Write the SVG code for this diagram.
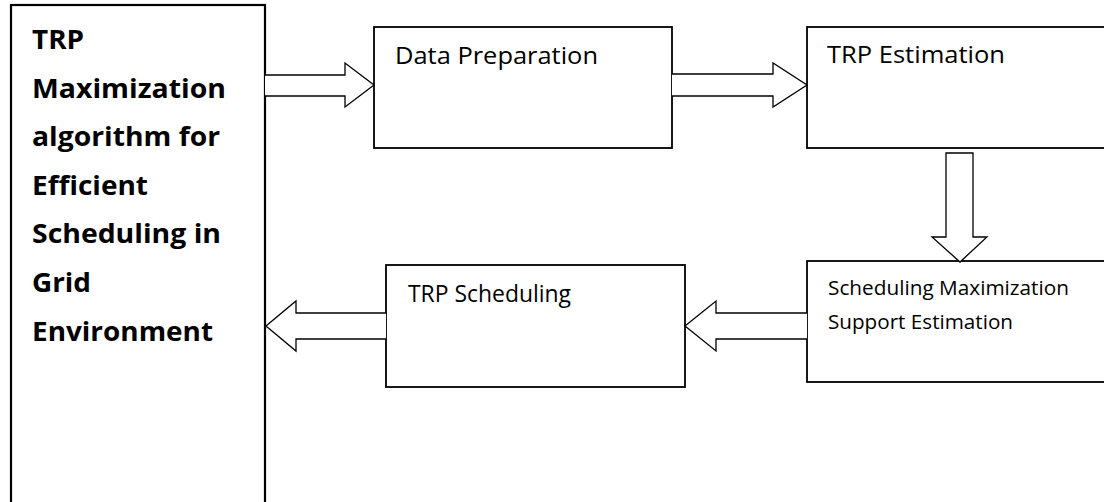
<svg xmlns="http://www.w3.org/2000/svg" width="1104" height="502" viewBox="0 0 1104 502">
  <style>
    .box { fill: #ffffff; stroke: #000000; stroke-width: 1.8; }
    .main { fill: #ffffff; stroke: #000000; stroke-width: 2.2; }
    .arrow { fill: #ffffff; stroke: #000000; stroke-width: 1.3; stroke-linejoin: miter; }
    .lbl { font-family: "Open Sans", "Liberation Sans", sans-serif; font-size: 24px; fill: #000000; }
    .lbl-sm { font-family: "Open Sans", "Liberation Sans", sans-serif; font-size: 20.5px; fill: #000000; }
    .title { font-family: "Open Sans", "Liberation Sans", sans-serif; font-size: 27px; font-weight: bold; fill: #000000; }
  </style>
  <rect width="1104" height="502" fill="#ffffff"/>

  <!-- Title block on the left -->
  <g id="node-title">
    <rect class="main" x="11" y="5" width="254" height="510"/>
    <text class="title" x="32" y="49" textLength="52" lengthAdjust="spacingAndGlyphs">TRP</text>
    <text class="title" x="32" y="97.6" textLength="194" lengthAdjust="spacingAndGlyphs">Maximization</text>
    <text class="title" x="32" y="146.2" textLength="188" lengthAdjust="spacingAndGlyphs">algorithm for</text>
    <text class="title" x="32" y="194.8" textLength="116" lengthAdjust="spacingAndGlyphs">Efficient</text>
    <text class="title" x="32" y="243.4" textLength="189" lengthAdjust="spacingAndGlyphs">Scheduling in</text>
    <text class="title" x="32" y="292" textLength="59" lengthAdjust="spacingAndGlyphs">Grid</text>
    <text class="title" x="32" y="340.6" textLength="181" lengthAdjust="spacingAndGlyphs">Environment</text>
  </g>

  <g id="node-data-preparation">
    <rect class="box" x="374" y="27" width="298" height="121"/>
    <text class="lbl" x="395" y="64" textLength="203" lengthAdjust="spacingAndGlyphs">Data Preparation</text>
  </g>

  <g id="node-trp-estimation">
    <rect class="box" x="807" y="27" width="310" height="121"/>
    <text class="lbl" x="827" y="63" textLength="178" lengthAdjust="spacingAndGlyphs">TRP Estimation</text>
  </g>

  <g id="node-support-estimation">
    <rect class="box" x="807" y="261" width="310" height="121"/>
    <text class="lbl-sm" x="828" y="294.5" textLength="241" lengthAdjust="spacingAndGlyphs">Scheduling Maximization</text>
    <text class="lbl-sm" x="828" y="328.5" textLength="185" lengthAdjust="spacingAndGlyphs">Support Estimation</text>
  </g>

  <g id="node-trp-scheduling">
    <rect class="box" x="386" y="265" width="299" height="122"/>
    <text class="lbl" x="408" y="302" textLength="163" lengthAdjust="spacingAndGlyphs">TRP Scheduling</text>
  </g>

  <!-- Block arrows between the stages -->
  <g id="connectors">
    <path class="arrow" d="M265,75 H345 V63 L374,85 L345,107 V96 H265"/>
    <path class="arrow" d="M672,74 H773 V63 L807,85 L773,107 V96 H672"/>
    <path class="arrow" d="M946,153 H973 V237 H987 L960,262 L932,237 H946 Z"/>
    <path class="arrow" d="M807,313 H716 V301 L685,326 L716,351 V339 H807"/>
    <path class="arrow" d="M386,313 H296 V301 L266,326 L296,351 V339 H386"/>
  </g>
</svg>
